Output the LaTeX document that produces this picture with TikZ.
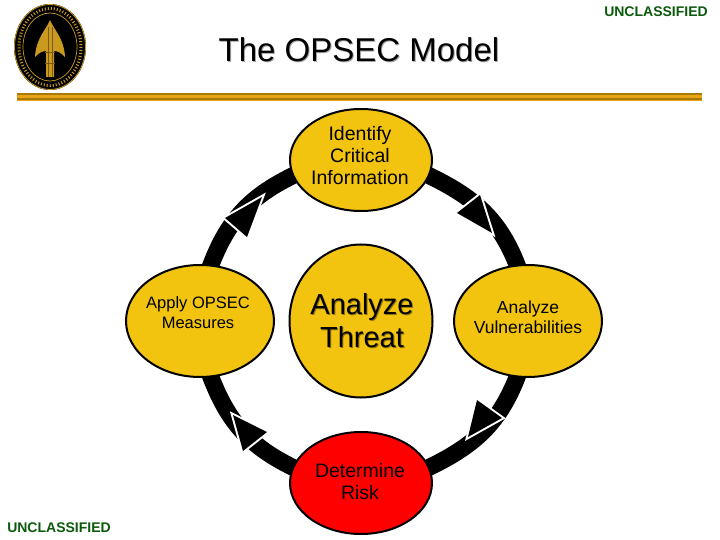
\documentclass[tikz,border=0pt]{standalone}
\usepackage{fontspec}
\setmainfont{Liberation Sans}
\usepackage{tikz}
\usetikzlibrary{shapes,backgrounds,arrows.meta,positioning,calc}
\usepackage{xcolor}
\definecolor{stepgold}{HTML}{F2C40F}
\definecolor{riskred}{HTML}{FF0000}
\definecolor{bardark}{HTML}{A87A08}
\definecolor{barlight}{HTML}{E8A317}
\definecolor{sealgold}{HTML}{C99A1E}
\definecolor{shaftdark}{HTML}{7A5A10}
\definecolor{classgreen}{HTML}{0B5A0B}
\definecolor{threatshadow}{HTML}{8F7410}
\newcommand{\phaselines}[3]{\makebox[0pt]{\hspace*{#1}\raisebox{#2}[0pt][0pt]{\begin{tabular}{@{}c@{}}#3\end{tabular}}}}
\tikzset{
  phase/.style={ellipse, draw=black, line width=2pt, fill=stepgold, inner sep=0pt, font=\fontsize{19.5}{22}\selectfont},
  sidephase/.style={phase, minimum width=148pt, minimum height=112pt},
  ringline/.style={draw=black, line width=17pt, line cap=butt, shorten <=-6pt, shorten >=-6pt},
  ringhead/.style={fill=black, preaction={draw=white, line width=4pt, line join=miter}},
  classmark/.style={font=\fontsize{14}{16}\selectfont\bfseries, text=classgreen}
}
\begin{document}
\begin{tikzpicture}[x=1pt, y=-1pt]
  \useasboundingbox (0,0) rectangle (720,540);
  % header bar
  \fill[barlight] (17,93) rectangle (702,101);
  \fill[bardark] (17,93.5) rectangle (702,95.5);
  \fill[bardark] (17,98.5) rectangle (632,100.5);
  \fill[bardark] (632,98.5) rectangle (702,100);
  % seal
  \fill[black] (50,47) ellipse [x radius=36, y radius=43];
  \draw[sealgold, line width=0.8pt] (50,47) ellipse [x radius=35.5, y radius=42.5];
  \draw[sealgold, line width=0.7pt] (50,47) ellipse [x radius=27, y radius=34];
  \draw[sealgold, line width=3pt, dash pattern=on 1pt off 2pt] (50,47) ellipse [x radius=31, y radius=38.5];
  \fill[sealgold] (50,20) .. controls (46,30) and (36,38) .. (35,57)
    .. controls (39,53) and (42,51) .. (46,51) -- (46,77) -- (54,77) -- (54,51)
    .. controls (58,51) and (61,53) .. (65,57) .. controls (64,38) and (54,30) .. (50,20) -- cycle;
  \draw[shaftdark, line width=0.6pt] (48,27) -- (48,77) (52,27) -- (52,77);
  \draw[shaftdark, line width=0.8pt] (45,52) -- (55,52) (45,63) -- (55,63);
  % titles
  \node[font=\fontsize{33}{35}\selectfont, text=gray!70] (titleshade) at (360,51) {The OPSEC Model};
  \node[font=\fontsize{33}{35}\selectfont] (title) at (359,50) {The OPSEC Model};
  \node[classmark] (classtop) at (656,12) {UNCLASSIFIED};
  \node[classmark] (classbottom) at (59,528) {UNCLASSIFIED};
  % the five phases
  \node[phase, minimum width=142pt, minimum height=102pt] (identify) at (361,160) {\phaselines{-2pt}{-3pt}{Identify\\Critical\\Information}};
  \node[sidephase, font=\fontsize{16.5}{20}\selectfont] (apply) at (200,321) {\phaselines{-4pt}{2pt}{Apply OPSEC\\Measures}};
  \node[sidephase, font=\fontsize{17.5}{20}\selectfont] (vuln) at (528,321) {\phaselines{0pt}{-3pt}{Analyze\\Vulnerabilities}};
  \node[phase, fill=riskred, minimum width=142pt, minimum height=102pt] (risk) at (361,483) {\phaselines{-2pt}{-6pt}{Determine\\Risk}};
  \node[phase, minimum width=143pt, minimum height=153pt] (threat) at (361,321) {};
  \node[align=center, text=threatshadow, font=\fontsize{29}{33}\selectfont] (threatshade) at (363,322) {Analyze\\Threat};
  \node[align=center, font=\fontsize{29}{33}\selectfont] (threattext) at (362,321) {Analyze\\Threat};
  % ring behind the phases
  \begin{scope}[on background layer]
    \draw[ringline] (apply.79) to[out=70, in=205] (identify.193);
    \draw[ringline] (identify.-13) to[out=-25, in=110] (vuln.101);
    \draw[ringline] (vuln.-101) to[out=-110, in=25] (risk.13);
    \draw[ringline] (risk.167) to[out=155, in=-70] (apply.-79);
  \end{scope}
  % arrowheads
  \path[ringhead] (225,218) -- (262,197) -- (247,237) -- cycle;
  \path[ringhead] (480,195) -- (492,233) -- (457,213) -- cycle;
  \path[ringhead] (477,400) -- (468,437) -- (502,418) -- cycle;
  \path[ringhead] (267,432) -- (233,415) -- (243,451) -- cycle;
\end{tikzpicture}
\end{document}
